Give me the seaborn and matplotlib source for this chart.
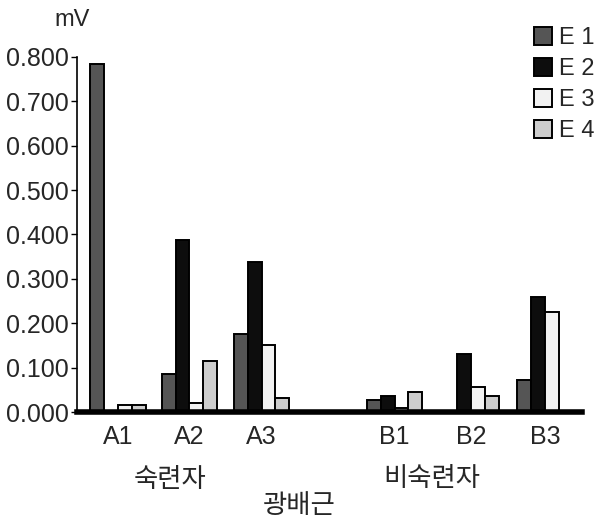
import matplotlib
matplotlib.use("Agg")
import matplotlib.pyplot as plt
import seaborn as sns
import pandas as pd

# Latissimus dorsi EMG amplitude (mV) per subject and condition
subjects = ["A1", "A2", "A3", "B1", "B2", "B3"]
series = ["E 1", "E 2", "E 3", "E 4"]
e1 = [0.785, 0.086, 0.176, 0.028, 0.003, 0.072]
e2 = [0.003, 0.388, 0.338, 0.037, 0.130, 0.260]
e3 = [0.015, 0.020, 0.151, 0.008, 0.057, 0.225]
e4 = [0.015, 0.115, 0.032, 0.045, 0.036, 0.003]
y_ticks = [0.0, 0.1, 0.2, 0.3, 0.4, 0.5, 0.6, 0.7, 0.8]
group_names = ["숙련자", "비숙련자"]
muscle = "광배근"
unit = "mV"

# horizontal placement of the subject groups (gap between the two cohorts)
group_pos = [0.0, 0.97, 1.95, 3.76, 4.80, 5.81]

rows = []
for name, vals in zip(series, [e1, e2, e3, e4]):
    for subj, pos, v in zip(subjects, group_pos, vals):
        rows.append({"subject": subj, "pos": pos, "series": name, "value": v})
df = pd.DataFrame(rows)

sns.set_theme(style="white")
plt.rcParams["font.family"] = ["Liberation Sans", "Noto Sans CJK KR"]

fig = plt.figure(figsize=(5.96, 5.24), dpi=100)
ax = fig.add_axes([77 / 596, 1 - 412 / 524, (582 - 77) / 596, (412 - 57) / 524])

palette = {"E 1": "#555555", "E 2": "#0d0d0d", "E 3": "#f2f2f2", "E 4": "#cdcdcd"}
sns.barplot(data=df, x="pos", y="value", hue="series", hue_order=series,
            palette=palette, native_scale=True, width=0.78, gap=0.0,
            edgecolor="black", linewidth=1.4, ax=ax, legend=True)

ax.set_ylim(0, 0.8)
ax.set_xlim(-0.56, 6.31)
ax.set_yticks(y_ticks)
ax.set_yticklabels([f"{t:.3f}" for t in y_ticks], fontsize=18)
ax.set_xticks(group_pos)
ax.set_xticklabels(subjects, fontsize=18)
ax.tick_params(axis="y", which="both", left=True, length=4, width=1, color="black", pad=2)
ax.tick_params(axis="x", length=0, pad=9)
ax.set_xlabel("")
ax.set_ylabel("")

for side in ["top", "right"]:
    ax.spines[side].set_visible(False)
ax.spines["left"].set_color("black")
ax.spines["left"].set_linewidth(1.2)
ax.spines["bottom"].set_color("black")
ax.spines["bottom"].set_linewidth(4)

fig.text(72 / 596, 1 - 20 / 524, unit, fontsize=17, ha="center", va="center")
fig.text(170 / 596, 1 - 480 / 524, group_names[0], fontsize=19, ha="center", va="center")
fig.text(432 / 596, 1 - 479 / 524, group_names[1], fontsize=19, ha="center", va="center")
fig.text(299 / 596, 1 - 506 / 524, muscle, fontsize=19, ha="center", va="center")

handles, labels = ax.get_legend_handles_labels()
ax.legend(handles, labels, loc="upper left", bbox_to_anchor=(513 / 596, 1 - 6 / 524),
          bbox_transform=fig.transFigure, frameon=False, fontsize=17,
          handlelength=0.75, handleheight=0.75, handletextpad=0.3, labelspacing=0.38)

fig.savefig("out.png", dpi=100)
